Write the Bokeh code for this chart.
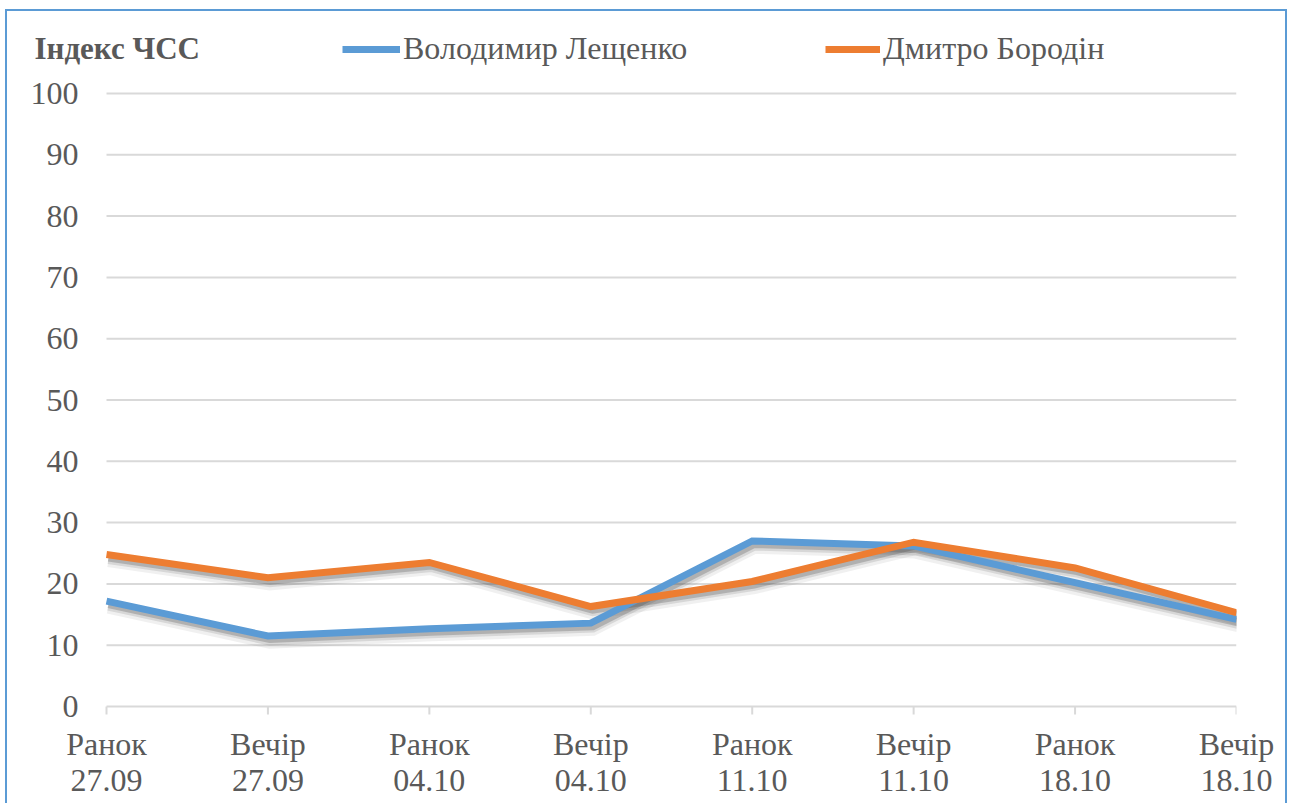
from math import pi
from bokeh.plotting import figure
from bokeh.models import (ColumnDataSource, Range1d, FixedTicker, Legend, LegendItem, Label)
from bokeh.core.properties import value
from bokeh.transform import dodge
from bokeh.embed import file_html
from bokeh.resources import INLINE

# Measurement sessions (time of day + date) and heart-rate index per athlete
periods = ["Ранок", "Вечір", "Ранок", "Вечір", "Ранок", "Вечір", "Ранок", "Вечір"]
dates = ["27.09", "27.09", "04.10", "04.10", "11.10", "11.10", "18.10", "18.10"]
leshchenko = [17.2, 11.5, 12.7, 13.6, 27.0, 26.2, 20.2, 14.2]
borodin = [24.8, 21.0, 23.5, 16.3, 20.4, 26.8, 22.6, 15.3]
series_names = ["Володимир Лещенко", "Дмитро Бородін"]
y_ticks = [0, 10, 20, 30, 40, 50, 60, 70, 80, 90, 100]
chart_title = "Індекс ЧСС"

FONT = "Liberation Serif"
TEXT = "#595959"
GRID = "#D9D9D9"
BLUE = "#5B9BD5"
ORANGE = "#ED7D31"
FS = "32px"

xs = list(range(len(periods)))
src = ColumnDataSource(dict(x=xs, les=leshchenko, bor=borodin))

# layout in pixels: the frame spans the whole drawing area so the header row and the
# value labels on the left live inside it; the data block itself is PLOT_*
FRAME_LEFT, PLOT_LEFT, PLOT_RIGHT = 20, 106, 1236
FRAME_TOP, PLOT_TOP, PLOT_BOTTOM, FRAME_BOTTOM = 11, 93, 706, 724
px_per_x = (PLOT_RIGHT - PLOT_LEFT) / (len(xs) - 1)
px_per_y = (PLOT_BOTTOM - PLOT_TOP) / (y_ticks[-1] - y_ticks[0])
x_start = xs[0] - (PLOT_LEFT - FRAME_LEFT) / px_per_x
y_start = y_ticks[0] - (FRAME_BOTTOM - PLOT_BOTTOM) / px_per_y
y_end = y_ticks[0] + (PLOT_BOTTOM - FRAME_TOP) / px_per_y

p = figure(width=1282, height=794, output_backend="svg", toolbar_location=None,
           x_range=Range1d(x_start, xs[-1]), y_range=Range1d(y_start, y_end),
           y_axis_location=None,
           min_border_left=FRAME_LEFT - 7, min_border_right=53, min_border_top=0,
           min_border_bottom=805 - FRAME_BOTTOM)
p.margin = (9, 0, 0, 5)
p.styles = {"border-top": "2px solid #5B9BD5", "border-left": "2px solid #5B9BD5",
            "border-right": "2px solid #5B9BD5"}
p.outline_line_color = None
p.title.visible = False
p.xgrid.visible = False
p.ygrid.visible = False

# horizontal gridlines across the category span (the 0 line doubles as the axis line)
p.segment(x0=xs[0], x1=xs[-1], y0=y_ticks, y1=y_ticks, line_color=GRID, line_width=2)

# category tick marks hanging below the baseline
p.ray(x=xs, y=[y_ticks[0]] * len(xs), length=8, length_units="screen",
      angle=-pi / 2, line_color=GRID, line_width=2)

# value labels beside the gridlines
p.text(x=[xs[0]] * len(y_ticks), y=y_ticks, text=[str(t) for t in y_ticks],
       x_offset=-28, text_align="right", text_baseline="middle",
       text_font=value(FONT), text_font_size=FS, text_color=TEXT)

# x axis carrying the two-line category labels
p.xaxis.ticker = FixedTicker(ticks=xs)
p.xaxis.major_label_overrides = {i: f"{periods[i]}\n{dates[i]}" for i in xs}
p.xaxis.axis_line_color = None
p.xaxis.major_tick_line_color = None
p.xaxis.major_tick_in = 0
p.xaxis.major_tick_out = 0
p.xaxis.minor_tick_line_color = None
p.xaxis.major_label_standoff = 1
p.xaxis.major_label_text_font = FONT
p.xaxis.major_label_text_font_size = FS
p.xaxis.major_label_text_color = TEXT
p.xaxis.major_label_text_line_height = 1.02

# soft drop shadows under both lines
for col in ("les", "bor"):
    for w, a, dy in ((15, 0.08, -0.85), (11, 0.14, -0.65), (8, 0.26, -0.5)):
        p.line(x=dodge("x", 0.012), y=dodge(col, dy), source=src,
               line_color="#404040", line_alpha=a, line_width=w, line_join="miter")

r_les = p.line("x", "les", source=src, line_color=BLUE, line_width=7, line_join="miter")
r_bor = p.line("x", "bor", source=src, line_color=ORANGE, line_width=7, line_join="miter")

# chart heading in the header row
p.add_layout(Label(x=14, y=FRAME_BOTTOM - 48, x_units="screen", y_units="screen",
                   text=chart_title, text_font=FONT, text_font_size="31px",
                   text_font_style="bold", text_color=TEXT, text_baseline="middle"))

# legend entries in the header row
def make_legend(renderer, label, left_px, glyph_w):
    lg = Legend(items=[LegendItem(label=label, renderers=[renderer])],
                location=(left_px - FRAME_LEFT, FRAME_BOTTOM - 67),
                orientation="horizontal", padding=0, margin=0, glyph_width=glyph_w,
                glyph_height=32, label_height=32, label_standoff=3,
                border_line_alpha=0, background_fill_alpha=0,
                label_text_font=FONT, label_text_font_size=FS,
                label_text_color=TEXT)
    p.add_layout(lg, "center")

make_legend(r_les, series_names[0], 342, 58)
make_legend(r_bor, series_names[1], 825, 55)

open("out.html", "w").write(file_html(p, INLINE))
